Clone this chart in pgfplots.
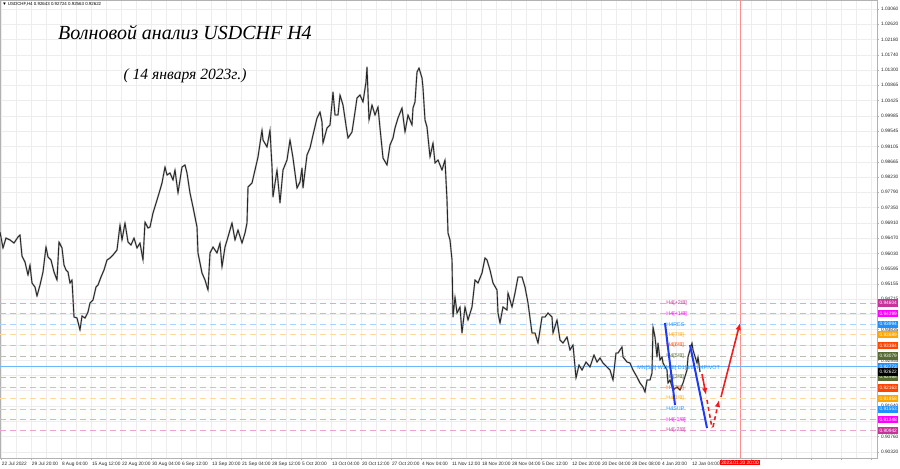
\documentclass[border=0pt]{standalone}
\usepackage{pgfplots}
\usepackage{pgfplotstable}
\pgfplotsset{compat=1.18}
\usetikzlibrary{arrows.meta}
\usepackage{fontspec}
\setmainfont{Liberation Sans}
\newfontfamily\titlefont{Liberation Serif}
\definecolor{mmA}{HTML}{C8329B}
\definecolor{mmB}{HTML}{FF00FF}
\definecolor{mmC}{HTML}{1E90FF}
\definecolor{mmD}{HTML}{FFA500}
\definecolor{mmE}{HTML}{FF4500}
\definecolor{mmF}{HTML}{556B2F}
\definecolor{lnA}{HTML}{E9A3D3}
\definecolor{lnB}{HTML}{F59BF5}
\definecolor{lnC}{HTML}{A9D2FF}
\definecolor{lnD}{HTML}{FFD9A0}
\definecolor{lnE}{HTML}{FFB09A}
\definecolor{lnF}{HTML}{BDBDAE}
\definecolor{pivln}{HTML}{6CB6FF}
\definecolor{wave}{HTML}{1F3BF0}
\definecolor{arr}{HTML}{F01E1E}

\pgfplotstableread{
x y
0 0.96647
3 0.96187
6 0.96474
10 0.96417
14 0.96330
18 0.96503
20 0.96560
22 0.95956
25 0.95784
28 0.95410
30 0.95698
32 0.95180
35 0.95065
37 0.94806
40 0.95122
43 0.95496
46 0.96215
48 0.95928
51 0.95841
54 0.95496
57 0.95266
59 0.96359
62 0.96187
64 0.95698
66 0.95554
68 0.95496
70 0.95180
72 0.95266
74 0.94202
77 0.94173
80 0.93828
82 0.94231
85 0.94173
88 0.94346
90 0.94605
93 0.94691
96 0.95065
98 0.95122
101 0.95352
104 0.95554
107 0.95841
110 0.95899
113 0.95985
117 0.96129
120 0.96848
122 0.96417
125 0.96906
128 0.96359
131 0.96273
134 0.96474
137 0.96187
140 0.96330
143 0.95841
145 0.96934
148 0.96762
150 0.96790
153 0.97193
157 0.97567
160 0.97855
162 0.98056
165 0.98516
167 0.98286
170 0.98344
173 0.98142
175 0.98430
178 0.97768
182 0.98516
185 0.98574
187 0.98344
190 0.97768
193 0.97366
197 0.96790
198 0.96043
200 0.95755
202 0.95468
205 0.95266
208 0.94979
210 0.96043
213 0.96215
217 0.96043
220 0.96330
222 0.95640
225 0.96215
228 0.96503
232 0.96906
235 0.96417
238 0.96704
242 0.96330
245 0.96618
247 0.96906
248 0.97941
252 0.98056
255 0.98430
258 0.98804
262 0.99580
263 0.99293
267 0.99091
270 0.99580
272 0.98516
273 0.97653
277 0.98430
280 0.97481
283 0.98430
287 0.98717
290 0.99293
293 0.98775
297 0.97912
300 0.98085
302 0.98487
303 0.97912
307 0.98861
310 0.99063
313 0.99436
317 0.99925
320 1.00098
322 0.99810
323 0.99206
327 0.99638
330 0.99724
333 1.00673
335 1.00012
338 1.00012
340 1.00587
343 1.00299
347 0.99523
348 0.99350
352 0.99523
355 1.00098
357 1.00501
360 1.00587
363 1.00385
366 1.00961
367 1.01392
369 0.99868
372 1.00299
375 1.00012
378 1.00242
380 0.99638
383 0.98775
387 0.98574
390 0.99149
393 0.99350
395 0.99638
398 0.99925
402 1.00213
405 0.99523
408 1.00012
412 0.99724
413 1.00213
415 1.00385
417 1.01248
419 1.01363
422 1.01076
423 1.00788
425 0.99868
427 0.99666
428 0.99379
430 0.98804
433 0.99206
435 0.98631
438 0.98717
442 0.98430
445 0.98717
447 0.97567
448 0.96618
450 0.96417
452 0.95841
453 0.94202
455 0.94777
457 0.94317
460 0.94490
462 0.93742
465 0.94490
468 0.94116
472 0.94490
475 0.95266
478 0.95180
482 0.95468
485 0.95899
487 0.95841
490 0.95554
493 0.95180
497 0.94979
498 0.94317
500 0.94030
503 0.94490
507 0.94403
508 0.94892
512 0.94490
515 0.94892
518 0.95352
522 0.95352
525 0.95065
528 0.94605
532 0.93742
535 0.93742
538 0.93454
542 0.94202
545 0.94202
548 0.94317
552 0.94202
553 0.93742
557 0.94116
560 0.93541
563 0.93454
567 0.93627
570 0.93253
573 0.93397
576 0.92448
579 0.92822
582 0.92678
586 0.92908
590 0.92764
594 0.93109
597 0.92908
600 0.93023
603 0.92879
607 0.92764
610 0.92678
613 0.92390
616 0.93167
618 0.93167
622 0.93339
623 0.93052
627 0.92908
630 0.92879
633 0.92678
637 0.92476
640 0.92304
643 0.92189
645 0.92045
647 0.92390
650 0.92390
652 0.92592
653 0.93914
655 0.93627
657 0.93052
658 0.93454
660 0.92965
662 0.93052
663 0.92879
667 0.92678
668 0.92304
670 0.92390
673 0.92103
677 0.92189
680 0.92103
683 0.92304
687 0.92678
688 0.93052
692 0.93454
693 0.93253
697 0.92879
698 0.93052
700 0.92620
}\pricedata

\newcommand{\mtfont}{\fontsize{2.4}{2.8}\selectfont}
\newcommand{\lvfont}{\fontsize{2.7}{3}\selectfont}

\begin{document}
\begin{tikzpicture}
\path[use as bounding box] (0,-5pt) rectangle (450pt,229pt);
\begin{axis}[
  at={(0,0)}, anchor=south west,
  scale only axis, width=438.5pt, height=229pt,
  xmin=0, xmax=877, ymin=0.90147, ymax=1.03319,
  clip=false,
  axis line style={gray!60, line width=0.4pt},
  xtick={1,31,...,871},
  xticklabels={22 Jul 2022,29 Jul 20:00,8 Aug 04:00,15 Aug 12:00,22 Aug 20:00,30 Aug 04:00,6 Sep 12:00,13 Sep 20:00,21 Sep 04:00,28 Sep 12:00,5 Oct 20:00,13 Oct 04:00,20 Oct 12:00,27 Oct 20:00,4 Nov 04:00,11 Nov 12:00,18 Nov 20:00,28 Nov 04:00,5 Dec 12:00,12 Dec 20:00,20 Dec 04:00,28 Dec 08:00,4 Jan 20:00,12 Jan 04:00,,,,,,},
  minor xtick={16,46,...,876},
  ytick={1.03060,1.02620,1.02180,1.01740,1.01300,1.00865,1.00425,0.99985,0.99545,0.99105,0.98665,0.98230,0.97790,0.97350,0.96910,0.96470,0.96030,0.95595,0.95155,0.94715,0.94275,0.93835,0.93395,0.92955,0.92520,0.92080,0.91640,0.91200,0.90760,0.90320},
  scaled y ticks=false,
  yticklabel pos=right,
  grid=both,
  major grid style={gray!14, line width=0.3pt},
  minor grid style={gray!14, line width=0.3pt},
  tick align=outside,
  major tick length=1.2pt, minor tick length=0pt,
  tick style={gray!60, line width=0.3pt},
  tick label style={font=\mtfont, text=black!85},
  xticklabel style={anchor=north west, inner sep=0pt, yshift=-0.8pt, xshift=0.3pt},
  yticklabel style={anchor=west, inner sep=0pt, xshift=0.6pt,
    /pgf/number format/.cd, fixed, fixed zerofill, precision=5, assume math mode=true},
]
% future time line
\addplot[red!45, line width=0.45pt] coordinates {(740,0.90147) (740,1.03319)};
% levels
\addplot[lnA, dash pattern=on 3pt off 2pt, line width=0.5pt] coordinates {(0,0.94604) (877,0.94604)};
\addplot[lnB, dash pattern=on 3pt off 2pt, line width=0.5pt] coordinates {(0,0.94299) (877,0.94299)};
\addplot[lnC, dash pattern=on 3pt off 2pt, line width=0.5pt] coordinates {(0,0.93994) (877,0.93994)};
\addplot[lnD, dash pattern=on 3pt off 2pt, line width=0.5pt] coordinates {(0,0.93689) (877,0.93689)};
\addplot[lnE, dash pattern=on 3pt off 2pt, line width=0.5pt] coordinates {(0,0.93384) (877,0.93384)};
\addplot[lnF, dash pattern=on 3pt off 2pt, line width=0.5pt] coordinates {(0,0.93079) (877,0.93079)};
\addplot[pivln, line width=0.5pt] coordinates {(0,0.92773) (877,0.92773)};
\addplot[lnF, dash pattern=on 3pt off 2pt, line width=0.5pt] coordinates {(0,0.92468) (877,0.92468)};
\addplot[lnE, dash pattern=on 3pt off 2pt, line width=0.5pt] coordinates {(0,0.92163) (877,0.92163)};
\addplot[lnD, dash pattern=on 3pt off 2pt, line width=0.5pt] coordinates {(0,0.91858) (877,0.91858)};
\addplot[lnC, dash pattern=on 3pt off 2pt, line width=0.5pt] coordinates {(0,0.91553) (877,0.91553)};
\addplot[lnB, dash pattern=on 3pt off 2pt, line width=0.5pt] coordinates {(0,0.91248) (877,0.91248)};
\addplot[lnA, dash pattern=on 3pt off 2pt, line width=0.5pt] coordinates {(0,0.90942) (877,0.90942)};
% price
\addplot[gray!50, line width=0.9pt, line join=round] table[x=x,y=y]{\pricedata};
\addplot[black!85, line width=0.45pt, line join=miter] table[x=x,y=y]{\pricedata};
% level texts
\begin{scope}[every node/.style={font=\lvfont, anchor=west, inner sep=0pt}]
\node[text=mmA] at (axis cs:666,0.94604) {H4[+2/8]};
\node[text=mmB] at (axis cs:666,0.94299) {H4[+1/8]};
\node[text=mmC] at (axis cs:666,0.93994) {H4RES};
\node[text=mmD] at (axis cs:666,0.93689) {H4[7/8]};
\node[text=mmE] at (axis cs:666,0.93384) {H4[6/8]};
\node[text=mmF] at (axis cs:666,0.93079) {H4[5/8]};
\node[text=mmC] at (axis cs:637,0.92730) {MN[5/8]\ W1[4/8]\ D1[4/8]\ H4PIVOT};
\node[text=mmF] at (axis cs:666,0.92468) {H4[3/8]};
\node[text=mmE] at (axis cs:666,0.92163) {H4[2/8]};
\node[text=mmD] at (axis cs:666,0.91858) {H4[1/8]};
\node[text=mmC] at (axis cs:666,0.91553) {H4SUP};
\node[text=mmB] at (axis cs:666,0.91248) {H4[-1/8]};
\node[text=mmA] at (axis cs:666,0.90942) {H4[-2/8]};
\end{scope}
% wave lines
\addplot[wave, line width=1pt] coordinates {(665,0.94030) (675,0.91671)};
\addplot[wave, line width=1pt] coordinates {(690,0.93397) (707,0.91010)};
% forecast arrows
\addplot[arr, line width=0.8pt, -{Latex[length=3.5pt,width=2.8pt]}] coordinates {(702,0.92563) (706,0.91959)};
\addplot[arr, line width=0.8pt, dash pattern=on 2pt off 1.5pt] coordinates {(707,0.91815) (712,0.91010)};
\addplot[arr, line width=0.8pt, dash pattern=on 2pt off 1.5pt, -{Latex[length=3.5pt,width=2.8pt]}] coordinates {(713,0.91039) (719,0.91815)};
\addplot[arr, line width=0.8pt, -{Latex[length=3.5pt,width=2.8pt]}] coordinates {(721,0.91901) (740,0.94030)};
% titles
\node[anchor=west, inner sep=0pt, font=\fontsize{2.2}{2.6}\selectfont] at (axis cs:2,1.03204) {▼ USDCHF,H4  0.92643 0.92724 0.92563 0.92622};
\node[font=\titlefont\itshape\fontsize{10}{11}\selectfont] at (axis cs:185,1.02370) {Волновой анализ USDCHF H4};
\node[font=\titlefont\itshape\fontsize{7.8}{9}\selectfont] at (axis cs:185,1.01133) {( 14 января 2023г.)};
% coordinates for right labels
\coordinate (L1) at (axis cs:877,0.94604);
\coordinate (L2) at (axis cs:877,0.94299);
\coordinate (L3) at (axis cs:877,0.93994);
\coordinate (L4) at (axis cs:877,0.93689);
\coordinate (L5) at (axis cs:877,0.93384);
\coordinate (L6) at (axis cs:877,0.93079);
\coordinate (L7) at (axis cs:877,0.92773);
\coordinate (LC) at (axis cs:877,0.92622);
\coordinate (L8) at (axis cs:877,0.92468);
\coordinate (L9) at (axis cs:877,0.92163);
\coordinate (L10) at (axis cs:877,0.91858);
\coordinate (L11) at (axis cs:877,0.91553);
\coordinate (L12) at (axis cs:877,0.91248);
\coordinate (L13) at (axis cs:877,0.90942);
\coordinate (TB) at (axis cs:740,0.90147);
\end{axis}
\begin{scope}[every node/.style={font=\mtfont, text=white, anchor=west, inner sep=0.3pt, minimum height=3.6pt, minimum width=10pt, xshift=0.4pt}]
\node[fill=mmA] at (L1) {0.94604};
\node[fill=mmB] at (L2) {0.94299};
\node[fill=mmC] at (L3) {0.93994};
\node[fill=mmD] at (L4) {0.93689};
\node[fill=mmE] at (L5) {0.93384};
\node[fill=mmF] at (L6) {0.93079};
\node[fill=mmC] at (L7) {0.92773};
\node[fill=mmF] at (L8) {0.92468};
\node[fill=black] at (LC) {0.92622};
\node[fill=mmE] at (L9) {0.92163};
\node[fill=mmD] at (L10) {0.91858};
\node[fill=mmC] at (L11) {0.91553};
\node[fill=mmB] at (L12) {0.91248};
\node[fill=mmA] at (L13) {0.90942};
\end{scope}
\node[fill=red, text=white, font=\mtfont, anchor=north, inner sep=0.6pt, yshift=-0.6pt, minimum width=18pt] at (TB) {2023.01.20 20:00};
\end{tikzpicture}
\end{document}
